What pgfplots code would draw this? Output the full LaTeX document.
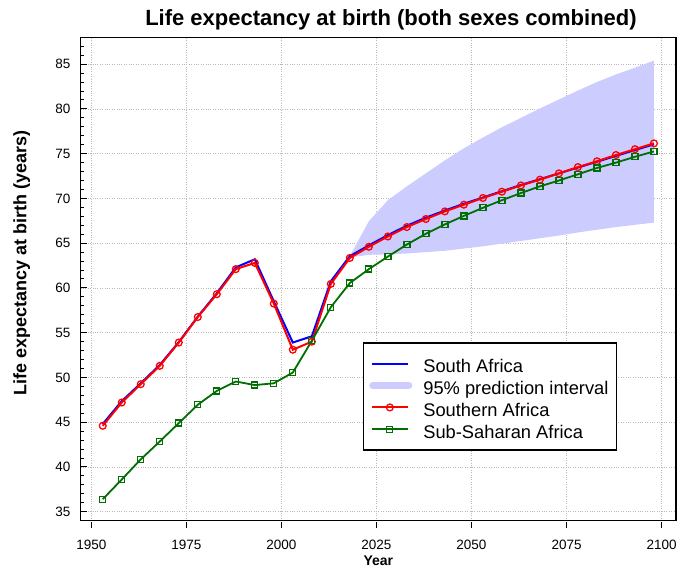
\documentclass[border=0pt]{standalone}
\usepackage{fontspec}
\setmainfont{Liberation Sans}
\usepackage{pgfplots}
\pgfplotsset{compat=1.18}
\definecolor{bandc}{RGB}{204,204,255}
\definecolor{sgreen}{RGB}{0,110,0}
\begin{document}
\begin{tikzpicture}
\begin{axis}[
  scale only axis, width=595.3pt, height=483.4pt,
  xmin=1947.2, xmax=2103.8, ymin=34.0, ymax=88.0,
  axis line style={line width=1.3pt},
  xtick={1950,1975,2000,2025,2050,2075,2100},
  xticklabels={1950,1975,2000,2025,2050,2075,2100},
  ytick={35,40,45,50,55,60,65,70,75,80,85},
  yticklabels={35,40,45,50,55,60,65,70,75,80,85},
  minor ytick={34,36,37,38,39,41,42,43,44,46,47,48,49,51,52,53,54,56,57,58,59,61,62,63,64,66,67,68,69,71,72,73,74,76,77,78,79,81,82,83,84,86,87,88},
  xtick pos=bottom, ytick pos=left,
  tick align=inside,
  major tick length=6pt, minor tick length=3.5pt,
  every tick/.style={black, line width=1pt},
  x tick style={yshift=-7pt},
  xmajorgrids, ymajorgrids,
  major grid style={dotted, gray!55, line width=0.8pt},
  tick label style={font=\fontsize{13.5}{16}\selectfont},
  yticklabel style={inner sep=0pt, xshift=-10pt},
  xticklabel style={inner sep=0pt, yshift=-19pt},
  legend image code/.code={\draw[mark repeat=2,mark phase=2,#1] plot coordinates {(0pt,0pt) (18pt,0pt) (36pt,0pt)};},
  legend style={at={(0.901,0.369)}, anchor=north east, draw=black, line width=1.2pt,
    font=\fontsize{18.3}{21}\selectfont, inner xsep=6pt, inner ysep=9.75pt, column sep=9pt,
    nodes={inner xsep=2pt, inner ysep=2.2pt, text height=17.5pt, text depth=0pt}},
  legend cell align=left,
]
% 95% prediction interval band
\addplot[draw=none, fill=bandc, forget plot] coordinates {
(2018,63.55) (2023,67.45) (2028,69.8) (2033,71.35) (2038,72.8) (2043,74.25) (2048,75.6)
(2053,76.8) (2058,77.95) (2063,79.0) (2068,80.05) (2073,81.05) (2078,82.05) (2083,83.0)
(2088,83.85) (2093,84.6) (2098,85.4)
(2098,67.3) (2093,67.05) (2088,66.8) (2083,66.5) (2078,66.2) (2073,65.85) (2068,65.55)
(2063,65.25) (2058,64.95) (2053,64.65) (2048,64.4) (2043,64.15) (2038,64.0) (2033,63.85)
(2028,63.75) (2023,63.7) (2018,63.4)
} -- cycle;
% South Africa
\addplot[blue, line width=2pt, forget plot] coordinates {
(1953,44.8) (1958,47.35) (1963,49.35) (1968,51.4) (1973,53.95) (1978,56.8) (1983,59.4)
(1988,62.3) (1993,63.2) (1998,58.5) (2003,53.9) (2008,54.6) (2013,60.75) (2018,63.55)
(2023,64.75) (2028,65.9) (2033,66.95) (2038,67.85) (2043,68.65) (2048,69.4) (2053,70.1)
(2058,70.8) (2063,71.5) (2068,72.15) (2073,72.8) (2078,73.45) (2083,74.1) (2088,74.75)
(2093,75.4) (2098,76.05)
};
% Southern Africa
\addplot[red, line width=2pt, mark=o, mark size=3.4pt, mark options={line width=1.3pt, solid}, forget plot] coordinates {
(1953,44.6) (1958,47.2) (1963,49.25) (1968,51.3) (1973,53.9) (1978,56.75) (1983,59.3)
(1988,62.1) (1993,62.8) (1998,58.25) (2003,53.1) (2008,54.0) (2013,60.45) (2018,63.35)
(2023,64.6) (2028,65.75) (2033,66.8) (2038,67.7) (2043,68.55) (2048,69.3) (2053,70.05)
(2058,70.75) (2063,71.45) (2068,72.1) (2073,72.8) (2078,73.5) (2083,74.15) (2088,74.85)
(2093,75.5) (2098,76.15)
};
% Sub-Saharan Africa
\addplot[sgreen, line width=1.8pt, mark=square, mark size=3pt, mark options={line width=1.3pt, solid}, forget plot] coordinates {
(1953,36.4) (1958,38.6) (1963,40.85) (1968,42.85) (1973,44.9) (1978,46.95) (1983,48.5)
(1988,49.55) (1993,49.15) (1998,49.35) (2003,50.55) (2008,54.1) (2013,57.85) (2018,60.55)
(2023,62.1) (2028,63.5) (2033,64.85) (2038,66.05) (2043,67.1) (2048,68.05) (2053,68.95)
(2058,69.8) (2063,70.6) (2068,71.35) (2073,72.0) (2078,72.7) (2083,73.4) (2088,74.0)
(2093,74.65) (2098,75.25)
};
\addlegendimage{blue, line width=2pt}
\addlegendentry{South Africa}
\addlegendimage{legend image code/.code={\draw[line width=7pt, line cap=round, bandc] (1pt,0pt)--(37pt,0pt);}}
\addlegendentry{95\% prediction interval}
\addlegendimage{red, line width=2pt, mark=o, mark size=3.4pt, mark options={line width=1.3pt, solid}}
\addlegendentry{Southern Africa}
\addlegendimage{sgreen, line width=1.8pt, mark=square, mark size=3pt, mark options={line width=1.3pt, solid}}
\addlegendentry{Sub-Saharan Africa}
\coordinate (SW) at (rel axis cs:0,0);
\coordinate (NE) at (rel axis cs:1,1);
\end{axis}
\path (SW) ++(310.3pt,494.7pt) node[anchor=base, font=\fontsize{22}{26}\selectfont\bfseries] {Life expectancy at birth (both sexes combined)};
\path (SW) ++(297.7pt,-45.3pt) node[anchor=base, font=\fontsize{14}{17}\selectfont\bfseries] {Year};
\path (SW) ++(-54.2pt,257.7pt) node[anchor=base, rotate=90, font=\fontsize{18}{21}\selectfont\bfseries] {Life expectancy at birth (years)};
\pgfresetboundingbox
\path (SW) ++(-80.7pt,-47.3pt) rectangle ([shift={(20pt,37.3pt)}]NE);
\end{tikzpicture}
\end{document}
